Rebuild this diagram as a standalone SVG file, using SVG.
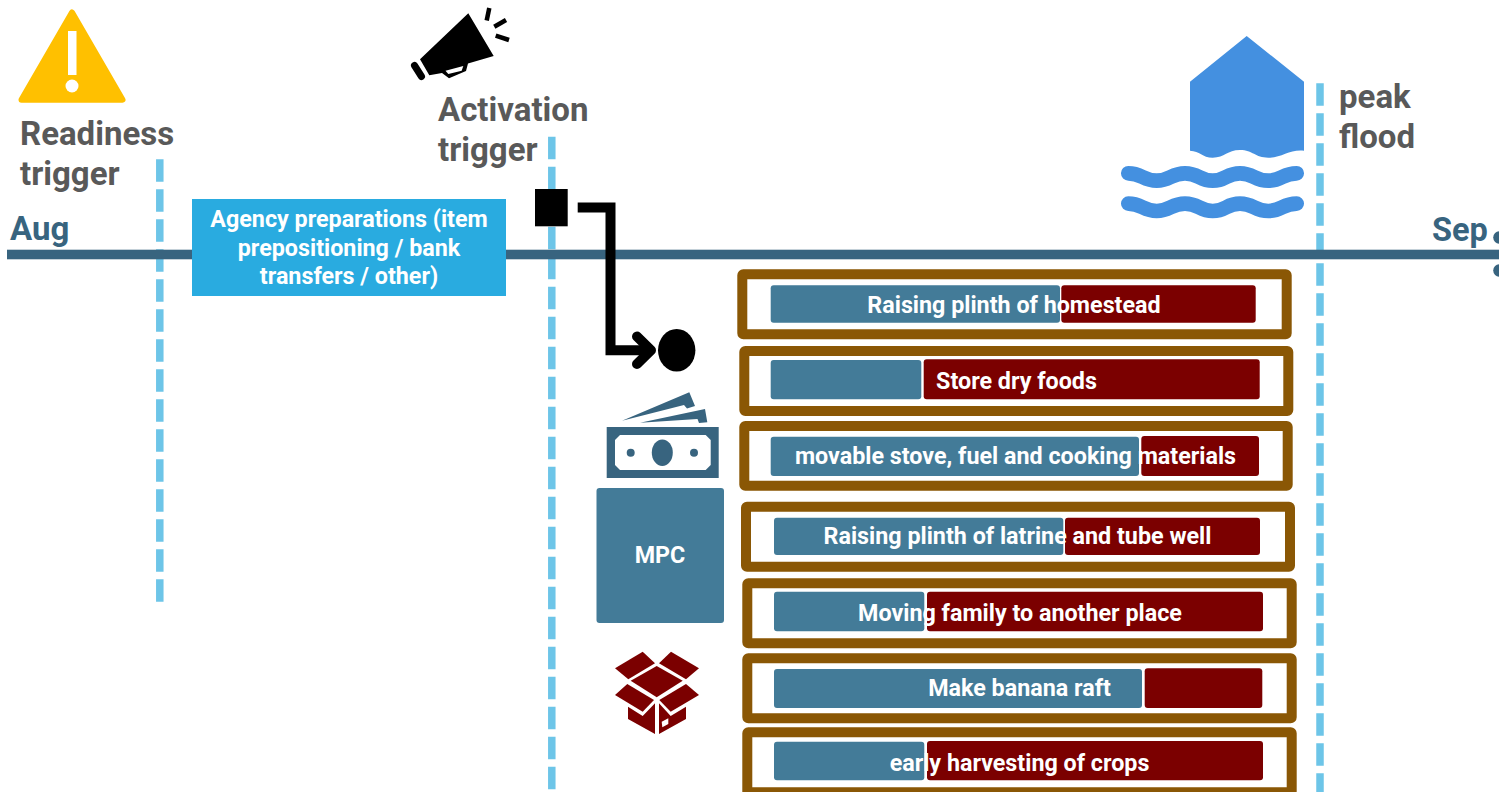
<svg xmlns="http://www.w3.org/2000/svg" width="1499" height="792" viewBox="0 0 1499 792">
<style>
text{font-family:Roboto,"Liberation Sans",sans-serif;font-weight:700}
.head{font-size:33px;fill:#595959}
.month{font-size:33px;fill:#38647f}
.bar{font-size:23.3px;fill:#fff;text-anchor:middle}
.frame{fill:#fff;stroke:#8a5705;stroke-width:10;stroke-linejoin:round}
.b{fill:#437b98}
.r{fill:#7b0000}
.dash{stroke:#6dc5e8;stroke-width:7.5;stroke-dasharray:22.5 7.5;fill:none}
.wave{fill:none;stroke:#4490e0;stroke-width:14.7;stroke-linecap:round}
.ray{stroke:#000;stroke-width:4.5}
</style>
<g id="guides">
<path class="dash" d="M159.8 159.3V602"/>
<path class="dash" d="M551.8 136.7V790"/>
<path class="dash" d="M1320 83.3V792"/>
</g>
<g id="timeline">
<rect x="7" y="249.7" width="1492" height="9.6" fill="#38647f"/>
<text class="month" x="10" y="239.5">Aug</text>
<text class="month" x="1432" y="241" style="font-size:32.5px">Sep</text>
<circle cx="1499.5" cy="237.5" r="6.3" fill="#38647f"/>
<circle cx="1499.5" cy="270.5" r="6.3" fill="#38647f"/>
</g>
<g id="readiness">
<path d="M72 12.5 L122.5 99.7 H21.5 Z" fill="#ffc000" stroke="#ffc000" stroke-width="6" stroke-linejoin="round"/>
<rect x="68" y="31" width="8.5" height="44" fill="#fff"/>
<circle cx="72" cy="86" r="6.5" fill="#fff"/>
<text class="head" x="20" y="144.5">Readiness</text>
<text class="head" x="20" y="184.5">trigger</text>
</g>
<g id="activation">
<path d="M468.3 13.3 L493.7 56 L468 63.5 L466 71 L449 78.3 L442 73 L429.3 75.3 L420 59.3 Z"/>
<path d="M445.5 70.7 L463.3 66 L461.7 70.7 L448.3 74 Z" fill="#fff"/>
<path d="M414.5 65.5 L421.5 76.5" stroke="#000" stroke-width="7" stroke-linecap="round"/>
<path class="ray" d="M489.3 8 L486.7 20.5"/>
<path class="ray" d="M506 20 L494.3 26.7"/>
<path class="ray" d="M509 40 L495.7 35.7"/>
<text class="head" x="438" y="120.5">Activation</text>
<text class="head" x="438" y="160.5">trigger</text>
</g>
<g id="peak">
<path d="M1246.7 36 L1304 81.7 V150.7 C1290 149 1282 157.7 1268.3 157.7 C1255 157.7 1253 150 1240 150 C1227 150 1225 157.7 1212.7 157.7 C1202 157.7 1200 151 1190 150.7 V81.7 Z" fill="#4490e0"/>
<path class="wave" d="M1128.3 173.3 C1142 173.3 1143 180.7 1156.7 180.7 S1171 173.3 1185 173.3 S1199 180.7 1212.7 180.7 S1226 173.3 1240 173.3 S1254 180.7 1268.3 180.7 S1282 173.3 1296.7 173.3"/>
<path class="wave" d="M1128.3 203.6 C1142 203.6 1143 211 1156.7 211 S1171 203.6 1185 203.6 S1199 211 1212.7 211 S1226 203.6 1240 203.6 S1254 211 1268.3 211 S1282 203.6 1296.7 203.6"/>
<text class="head" x="1339" y="108">peak</text>
<text class="head" x="1339" y="148">flood</text>
</g>
<g id="agency">
<rect x="192" y="199" width="314" height="97" fill="#29abe0"/>
<text class="bar" x="349" y="227">Agency preparations (item</text>
<text class="bar" x="349" y="256">prepositioning / bank</text>
<text class="bar" x="349" y="284">transfers / other)</text>
</g>
<g id="trigger-square"><rect x="535" y="189" width="32.7" height="37.3"/></g>
<g id="circle-node"><ellipse cx="676.7" cy="350.3" rx="18.7" ry="21.3"/></g>
<g id="connectors">
<path d="M577.7 207.5 H610.5 V350.3 H650" fill="none" stroke="#000" stroke-width="10"/>
<path d="M637 336.5 L651 350.3 L637 364" fill="none" stroke="#000" stroke-width="10" stroke-linecap="round" stroke-linejoin="round"/>
</g>
<g id="money">
<path d="M622 420.7 L689.3 392.3 L695 406 L687 408.5 L684 405 Z" fill="#38647f"/>
<path d="M640 422.7 L705 409 L707.3 422.3 L699 423 L697.5 419 Z" fill="#38647f"/>
<rect x="606.7" y="427" width="112" height="51" fill="#38647f"/>
<path d="M620 435 H705.7 L710.7 440 V465 L705.7 470 H620 L615 465 V440 Z" fill="#fff"/>
<ellipse cx="662.3" cy="452.7" rx="10.5" ry="13.3" fill="#38647f"/>
<circle cx="630.7" cy="452.7" r="4" fill="#38647f"/>
<circle cx="694" cy="452.7" r="4" fill="#38647f"/>
</g>
<g id="mpc">
<rect class="b" x="596.5" y="488" width="127.5" height="135" rx="3"/>
<text class="bar" x="660" y="563">MPC</text>
</g>
<g id="box" fill="#7b0000">
<path d="M642.7 651.7 L655 663.3 L628.3 679.3 L615 668.3 Z"/>
<path d="M671 651.7 L699 668.3 L686 679.3 L659 663.3 Z"/>
<path d="M656.7 666 L682.7 680.7 L656.7 697.3 L630.7 680.7 Z"/>
<path d="M627.3 684 L654 700 L642.7 711.7 L615 695 Z"/>
<path d="M686 684 L699 695 L670.7 711.7 L659.3 700 Z"/>
<path d="M628 706.7 L642.7 716 L655 703.3 V734 L628 719 Z"/>
<path d="M659 703.3 L670.7 716 L686 706.7 V719 L659 734 Z"/>
<path d="M661.7 721.7 L668.3 718.3 V724 L662.3 727.3 Z" fill="#fff"/>
</g>
<g id="row-1">
<rect class="frame" x="742.3" y="274.3" width="544.4" height="60" rx="1"/>
<rect class="b" x="770.7" y="285.3" width="289.3" height="37.4" rx="3"/>
<rect class="r" x="1061.3" y="285.3" width="194.4" height="37.4" rx="3"/>
<text class="bar" x="1014" y="313">Raising plinth of homestead</text>
</g>
<g id="row-2">
<rect class="frame" x="744.3" y="351" width="544" height="60" rx="1"/>
<rect class="b" x="770.7" y="360" width="150.6" height="39.3" rx="3"/>
<rect class="r" x="923.7" y="359.3" width="336" height="40" rx="3"/>
<text class="bar" x="1016.5" y="389">Store dry foods</text>
</g>
<g id="row-3">
<rect class="frame" x="744.3" y="426" width="543.4" height="59.7" rx="1"/>
<rect class="b" x="770.7" y="436.7" width="368.3" height="39.3" rx="3"/>
<rect class="r" x="1141.3" y="436" width="117.7" height="40" rx="3"/>
<text class="bar" x="1015.5" y="464">movable stove, fuel and cooking materials</text>
</g>
<g id="row-4">
<rect class="frame" x="746" y="506.7" width="544" height="60" rx="1"/>
<rect class="b" x="774" y="517.7" width="289.3" height="37.3" rx="3"/>
<rect class="r" x="1065" y="517.7" width="195" height="37.3" rx="3"/>
<text class="bar" x="1017.5" y="544">Raising plinth of latrine and tube well</text>
</g>
<g id="row-5">
<rect class="frame" x="747.3" y="583.3" width="544.4" height="60" rx="1"/>
<rect class="b" x="774" y="591.7" width="150.3" height="39.6" rx="3"/>
<rect class="r" x="927" y="591.7" width="336" height="39.6" rx="3"/>
<text class="bar" x="1020" y="621">Moving family to another place</text>
</g>
<g id="row-6">
<rect class="frame" x="747.3" y="658.3" width="544.4" height="60" rx="1"/>
<rect class="b" x="774" y="669" width="368" height="39" rx="3"/>
<rect class="r" x="1144.7" y="668.3" width="117.6" height="39.7" rx="3"/>
<text class="bar" x="1019.5" y="696">Make banana raft</text>
</g>
<g id="row-7">
<rect class="frame" x="747.3" y="732.3" width="544.4" height="60" rx="1"/>
<rect class="b" x="774" y="741.7" width="150.3" height="38.6" rx="3"/>
<rect class="r" x="927" y="741" width="336" height="39.3" rx="3"/>
<text class="bar" x="1019.5" y="771">early harvesting of crops</text>
</g>
</svg>
